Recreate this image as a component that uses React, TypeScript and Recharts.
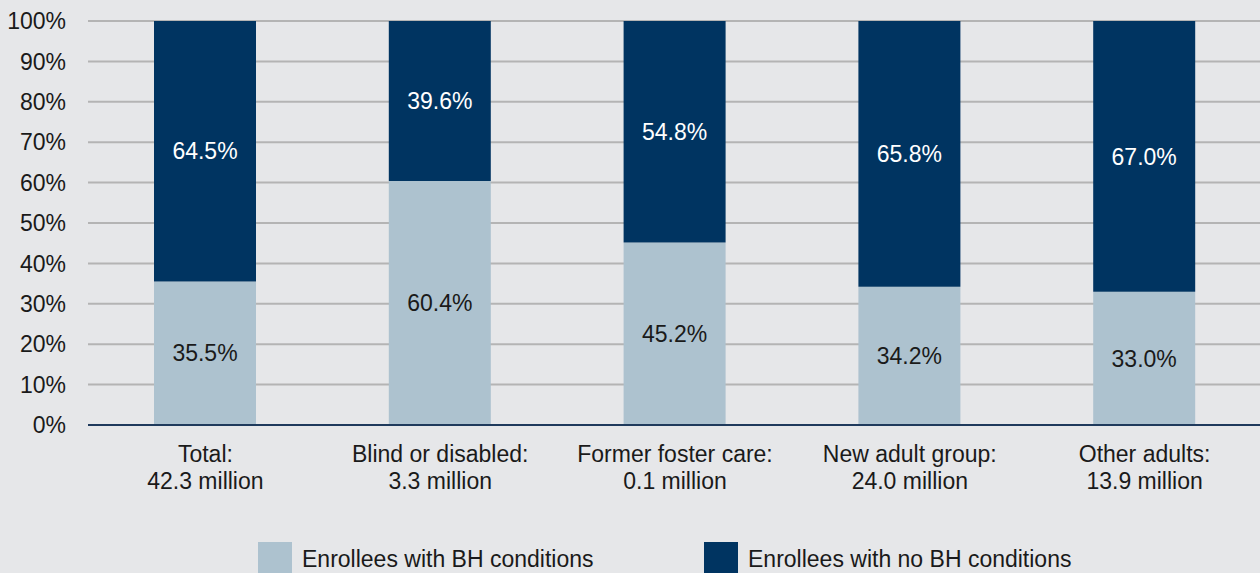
import React from 'react';
import { BarChart, Bar, XAxis, YAxis, CartesianGrid, Legend, LabelList } from 'recharts';

const groupNames = ['Total:', 'Blind or disabled:', 'Former foster care:', 'New adult group:', 'Other adults:'];
const groupSizes = ['42.3 million', '3.3 million', '0.1 million', '24.0 million', '13.9 million'];
const withBH = [35.5, 60.4, 45.2, 34.2, 33.0];
const noBH = [64.5, 39.6, 54.8, 65.8, 67.0];
const yTicks = [0, 10, 20, 30, 40, 50, 60, 70, 80, 90, 100];

const LIGHT = '#adc2cf';
const NAVY = '#003461';
const BG = '#e6e7e9';
const FONT = '"Liberation Sans", Arial, sans-serif';

const data = groupNames.map((name, i) => ({
    name,
    size: groupSizes[i],
    withBH: withBH[i],
    noBH: noBH[i],
}));

const pct = (v: any) => `${Number(v).toFixed(1)}%`;

const CategoryTick = (props: any) => {
    const { x, y, index } = props;
    return (
        <g>
            <text x={x} y={y + 37} textAnchor="middle" fontSize={23} fill="#1a1a1a" fontFamily={FONT}>
                {groupNames[index]}
            </text>
            <text x={x} y={y + 64} textAnchor="middle" fontSize={23} fill="#1a1a1a" fontFamily={FONT}>
                {groupSizes[index]}
            </text>
        </g>
    );
};

const LegendBox = () => {
    const items = [
        { label: 'Enrollees with BH conditions', color: LIGHT, left: 258 },
        { label: 'Enrollees with no BH conditions', color: NAVY, left: 704 },
    ];
    return (
        <div style={{ position: 'relative', width: 1260, height: 78 }}>
            {items.map((it) => (
                <div key={it.label} style={{ position: 'absolute', left: it.left, top: 47, display: 'flex', alignItems: 'center' }}>
                    <div style={{ width: 34, height: 34, background: it.color }} />
                    <span style={{ marginLeft: 10, fontSize: 23, lineHeight: '34px', color: '#1a1a1a', fontFamily: FONT, whiteSpace: 'nowrap' }}>
                        {it.label}
                    </span>
                </div>
            ))}
        </div>
    );
};

export default function App() {
    return (
        <div style={{ position: 'absolute', left: 0, top: 0, width: 1260, height: 573, background: BG, overflow: 'hidden' }}>
            <BarChart width={1260} height={573} data={data} margin={{ top: 21, right: -2, left: 0, bottom: 0 }}>
                <CartesianGrid vertical={false} stroke="#b4b4b4" strokeWidth={2} />
                <YAxis
                    width={88}
                    domain={[0, 100]}
                    ticks={yTicks}
                    tickFormatter={(v) => `${v}%`}
                    axisLine={false}
                    tickLine={false}
                    tickSize={0}
                    tickMargin={22}
                    tick={{ fontSize: 23, fill: '#1a1a1a', fontFamily: FONT }}
                />
                <XAxis
                    dataKey="name"
                    height={70}
                    tickLine={false}
                    tickSize={0}
                    tickMargin={0}
                    axisLine={{ stroke: '#1f3a5c', strokeWidth: 2 }}
                    tick={<CategoryTick />}
                    interval={0}
                />
                <Legend verticalAlign="bottom" content={<LegendBox />} wrapperStyle={{ left: 0, width: 1260 }} />
                <Bar dataKey="withBH" stackId="a" fill={LIGHT} barSize={102} isAnimationActive={false}>
                    <LabelList dataKey="withBH" position="center" formatter={pct} fill="#1a1a1a" fontSize={23} fontFamily={FONT} />
                </Bar>
                <Bar dataKey="noBH" stackId="a" fill={NAVY} barSize={102} isAnimationActive={false}>
                    <LabelList dataKey="noBH" position="center" formatter={pct} fill="#ffffff" fontSize={23} fontFamily={FONT} />
                </Bar>
            </BarChart>
        </div>
    );
}
